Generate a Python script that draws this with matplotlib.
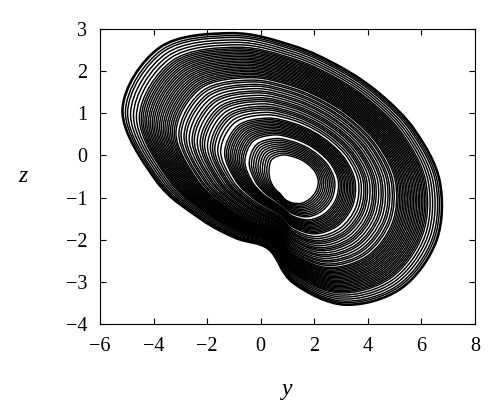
import numpy as np
import matplotlib
matplotlib.use("Agg")
from matplotlib import pyplot as plt
from matplotlib.path import Path
from matplotlib.patches import PathPatch

# outer loop of the attractor (y, z),
# one point every 22.5 degrees round the middle of the hole
outer_y = [6.68, 6.56, 5.23, 3.12, 1.21, 0.30, -0.92, -2.23,
           -3.89, -5.16, -3.77, -1.08, 1.21, 2.97, 4.45, 5.76]
outer_z = [-0.61, -2.02, -3.16, -3.54, -3.02, -2.22, -1.96, -1.51,
           -0.61, 1.07, 2.56, 2.90, 2.60, 2.10, 1.46, 0.59]

# edge of the empty hole in the middle, same directions
inner_y = [2.15, 2.07, 1.85, 1.55, 1.21, 0.92, 0.73, 0.53,
           0.37, 0.31, 0.41, 0.81, 1.21, 1.53, 1.80, 2.03]
inner_z = [-0.61, -0.84, -1.02, -1.13, -1.13, -1.05, -0.91, -0.79,
           -0.61, -0.37, -0.10, 0.01, -0.03, -0.11, -0.23, -0.39]

# where the rings sit between the hole (0) and the outer loop (1)
loop_levels = [0.0, 0.015, 0.03, 0.045, 0.06, 0.075, 0.09, 0.105, 0.12, 0.135,
               0.165, 0.178, 0.19, 0.203, 0.215, 0.228, 0.24, 0.253, 0.265, 0.278, 0.29, 0.303,
               0.33, 0.35, 0.37, 0.385, 0.40, 0.42, 0.44, 0.455, 0.47, 0.49, 0.51, 0.525,
               0.545, 0.565, 0.58, 0.6, 0.615,
               0.635, 0.647, 0.66, 0.672, 0.685, 0.697, 0.71, 0.722, 0.735, 0.747, 0.76,
               0.772, 0.785, 0.797, 0.81, 0.822, 0.835, 0.847, 0.86, 0.872, 0.885,
               0.905, 0.925, 0.945, 0.965, 0.98, 1.0]

y_ticks = [-6, -4, -2, 0, 2, 4, 6, 8]
z_ticks = [-4, -3, -2, -1, 0, 1, 2, 3]


def loop_path(pts):
    # closed smooth curve through the anchor points (catmull-rom as bezier)
    n = len(pts)
    verts = [pts[0]]
    codes = [Path.MOVETO]
    for i in range(n):
        p0, p1, p2, p3 = pts[i - 1], pts[i], pts[(i + 1) % n], pts[(i + 2) % n]
        verts += [p1 + (p2 - p0) / 6., p2 - (p3 - p1) / 6., p2]
        codes += [Path.CURVE4] * 3
    return Path(verts, codes)


plt.rcParams["font.family"] = ["Liberation Serif", "DejaVu Serif"]

fig = plt.figure(figsize=(5.0, 4.19), dpi=100)
ax = fig.add_axes([0.2, 0.2267, 0.75, 0.7041])

outer = np.array([outer_y, outer_z]).T
inner = np.array([inner_y, inner_z]).T

for s in loop_levels:
    pts = (1. - s) * inner + s * outer
    lw = 1.9 if s == 1.0 else 1.05
    ax.add_patch(PathPatch(loop_path(pts), fill=False, edgecolor="black", linewidth=lw))

ax.set_xlim(-6, 8)
ax.set_ylim(-4, 3)
ax.set_xticks(y_ticks)
ax.set_yticks(z_ticks)
ax.tick_params(direction="in", top=True, right=True, length=4, width=0.8,
               labelsize=14.5, pad=9)
for sp in ax.spines.values():
    sp.set_linewidth(0.8)

ax.set_xlabel("y", fontsize=17, style="italic", labelpad=17)
ax.set_ylabel("z", fontsize=17, style="italic", rotation=0, labelpad=31, va="center")

fig.savefig("out.png", dpi=100)
